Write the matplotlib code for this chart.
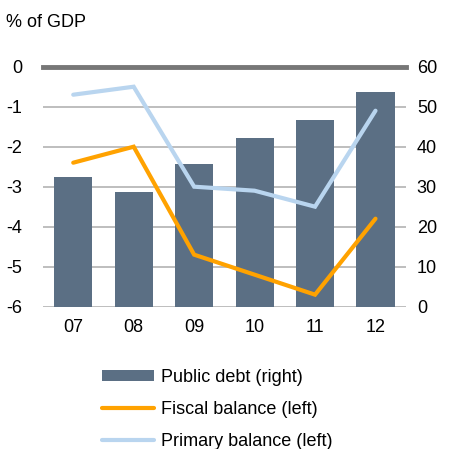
import matplotlib
matplotlib.use("Agg")
import matplotlib.pyplot as plt
from matplotlib.lines import Line2D
from matplotlib.patches import Patch

years = ["07", "08", "09", "10", "11", "12"]
public_debt = [32.4, 28.7, 35.6, 42.2, 46.7, 53.7]
fiscal_balance = [-2.4, -2.0, -4.7, -5.2, -5.7, -3.8]
primary_balance = [-0.7, -0.5, -3.0, -3.1, -3.5, -1.1]
left_ticks = [0, -1, -2, -3, -4, -5, -6]
right_ticks = [0, 10, 20, 30, 40, 50, 60]

plt.rcParams['font.family'] = ['Liberation Sans', 'DejaVu Sans']
plt.rcParams['font.size'] = 13
plt.rcParams['axes.unicode_minus'] = False

bar_c = "#5b6f84"
orange = "#ffa200"
blue = "#b9d5ef"
grid_c = "#b3b3b3"

fig = plt.figure(figsize=(4.49, 4.49), dpi=100)
ax = fig.add_axes([0.0958, 0.317, 0.8078, 0.5344])
ax2 = ax.twinx()

x = list(range(len(years)))

ax2.bar(x, public_debt, width=0.63, color=bar_c, zorder=2)
ax2.set_ylim(0, 60)
ax2.set_yticks(right_ticks)

ax.set_ylim(-6, 0)
ax.set_xlim(-0.5, 5.5)
ax.set_yticks(left_ticks)
ax.set_xticks(x)
ax.set_xticklabels(years)

for t in right_ticks[:-1]:
    ax2.axhline(t, color=grid_c, lw=1.2, zorder=1)
ax2.axhline(60, color="#777777", lw=3.5, zorder=1, clip_on=False)

conv = lambda v: (v + 6) * 10
ax2.plot(x, [conv(v) for v in primary_balance], color=blue, lw=3, zorder=3,
         solid_capstyle='round', solid_joinstyle='miter')
ax2.plot(x, [conv(v) for v in fiscal_balance], color=orange, lw=3, zorder=4,
         solid_capstyle='round', solid_joinstyle='miter')

for a in (ax, ax2):
    for s in a.spines.values():
        s.set_visible(False)
    a.tick_params(length=0, labelsize=13, colors="black")
ax.tick_params(axis='y', pad=15)
ax2.tick_params(axis='y', pad=8)
ax.tick_params(axis='x', pad=9)

fig.text(0.013, 0.95, "% of GDP", fontsize=13, ha='left', va='center')

handles = [
    Patch(facecolor=bar_c, edgecolor='none'),
    Line2D([], [], color=orange, lw=3, solid_capstyle='round'),
    Line2D([], [], color=blue, lw=3, solid_capstyle='round'),
]
labels = ["Public debt (right)", "Fiscal balance (left)", "Primary balance (left)"]
fig.legend(handles, labels, loc='upper left', bbox_to_anchor=(0.227, 0.178), frameon=False,
           handlelength=2.9, handletextpad=0.35, labelspacing=0.82, fontsize=13,
           handleheight=0.55, borderpad=0, borderaxespad=0)

fig.savefig("out.png", dpi=100)
